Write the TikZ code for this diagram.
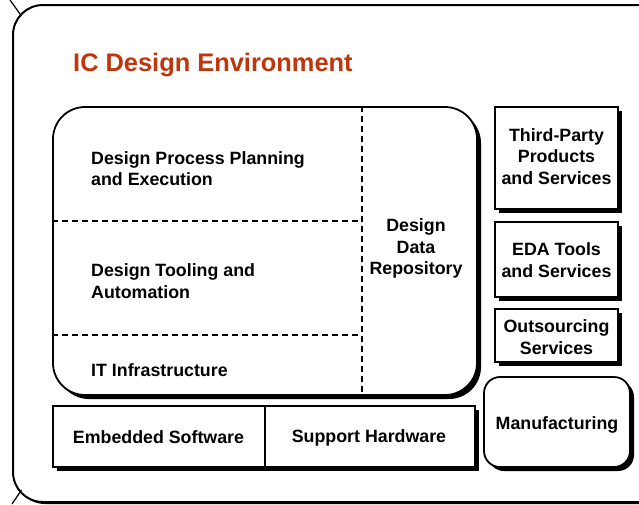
\documentclass[tikz,border=0pt]{standalone}
\usepackage{fontspec}
\setmainfont{Liberation Sans}
\usetikzlibrary{shadows}
\definecolor{titlered}{RGB}{191,54,12}
\tikzset{
  sh/.style={drop shadow={shadow xshift=4pt,shadow yshift=-4pt,fill=black,opacity=1}},
  box/.style={draw,line width=1.8pt,fill=white,sh,inner sep=0pt},
  lbl/.style={font=\bfseries\fontsize{17.8}{21.3}\selectfont,align=center,inner sep=0pt},
  lbll/.style={lbl,align=left,anchor=west},
  dashline/.style={line width=1.6pt,dash pattern=on 6pt off 4pt},
  thin/.style={line width=1.2pt}
}
\begin{document}
\begin{tikzpicture}[x=1pt,y=-1pt]
\useasboundingbox (0,0) rectangle (639,504);
\fill[white] (0,0) rectangle (639,504);
\clip (0,0) rectangle (639,504);
% outer frame
\node[draw,line width=2pt,rounded corners=30pt,minimum width=664pt,minimum height=497pt,inner sep=0pt,
  drop shadow={shadow xshift=2pt,shadow yshift=-2pt,fill=black,opacity=1},fill=white] (frame) at (345,253.5) {};
\coordinate (tla) at (10,0);
\coordinate (tlb) at (21.5,16);
\coordinate (bla) at (12,504);
\coordinate (blb) at (21.5,490);
\draw[thin] (tla) -- (tlb);
\draw[thin] (bla) -- (blb);
% title
\node[anchor=base west,inner sep=0pt,text=titlered,font=\bfseries\fontsize{25.4}{28}\selectfont] (title) at (73,71) {IC Design Environment};
% main box
\node[box,rounded corners=32pt,minimum width=424pt,minimum height=288pt] (main) at (265,251) {};
\coordinate (dv) at (362,0);
\coordinate (h1) at (0,221);
\coordinate (h2) at (0,335);
\draw[dashline] (main.north -| dv) -- (main.south -| dv);
\draw[dashline] (main.west |- h1) -- (dv |- h1);
\draw[dashline] (main.west |- h2) -- (dv |- h2);
\node[lbll] (dp) at (91,168.5) {Design Process Planning\\and Execution};
\node[lbll] (dt) at (91,281) {Design Tooling and\\Automation};
\node[lbll] (it) at (91,370) {IT Infrastructure};
\node[lbl] (ddr) at (416,248.5) {Design\\Data\\Repository};
% bottom box
\node[box,minimum width=422pt,minimum height=61pt] (bot) at (264,436.5) {};
\coordinate (bd) at (265,0);
\draw[line width=1.8pt] (bot.north -| bd) -- (bot.south -| bd);
\node[lbl] (es) at (158.5,437.5) {Embedded Software};
\node[lbl] (sh) at (369,437.5) {Support Hardware};
% right boxes
\node[box,minimum width=123pt,minimum height=102pt] (tp) at (556.5,158) {};
\node[lbl] (tpt) at (556.5,156.5) {Third-Party\\Products\\and Services};
\node[box,minimum width=123pt,minimum height=75pt] (eda) at (556.5,259.5) {};
\node[lbl] (edat) at (556.5,260) {EDA Tools\\and Services};
\node[box,minimum width=123pt,minimum height=53pt] (os) at (556.5,335.5) {};
\node[lbl] (ost) at (556.5,337) {Outsourcing\\Services};
\node[box,rounded corners=16pt,minimum width=146pt,minimum height=90pt] (mf) at (557,422) {};
\node[lbl] (mft) at (557,425) {Manufacturing};
\end{tikzpicture}
\end{document}
